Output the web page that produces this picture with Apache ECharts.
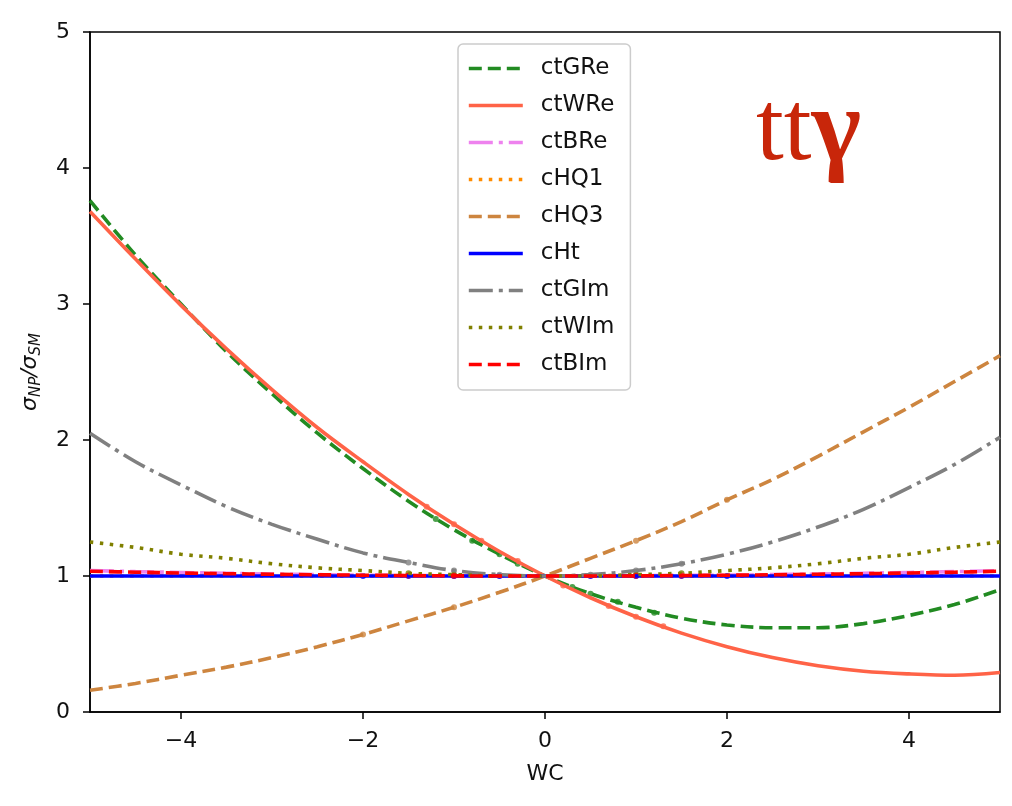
<!DOCTYPE html>
<html>
<head>
<meta charset="utf-8">
<script src="https://cdn.jsdelivr.net/npm/echarts@6/dist/echarts.min.js"></script>
<style>
  html, body { margin: 0; padding: 0; background: #ffffff; }
  #chart { width: 1012px; height: 806px; }
</style>
</head>
<body>
<div id="chart"></div>
<script>
// Wilson coefficient scan points
const wc = [-5, -4.5, -4, -3.5, -3, -2.5, -2, -1.5, -1, -0.5, 0, 0.5, 1, 1.5, 2, 2.5, 3, 3.5, 4, 4.5, 5];

// sigma_NP / sigma_SM for each operator along wc
const ctGRe = [3.76, 3.36, 3.00, 2.65, 2.34, 2.05, 1.79, 1.55, 1.34, 1.16, 1.00, 0.87, 0.77, 0.69, 0.64, 0.62, 0.62, 0.65, 0.71, 0.79, 0.90];
const ctWRe = [3.68, 3.33, 2.99, 2.67, 2.37, 2.09, 1.84, 1.60, 1.38, 1.18, 1.00, 0.84, 0.70, 0.58, 0.48, 0.40, 0.34, 0.30, 0.28, 0.27, 0.29];
const ctBRe = [1.040, 1.032, 1.026, 1.020, 1.014, 1.010, 1.006, 1.004, 1.002, 1.000, 1.000, 1.000, 1.002, 1.004, 1.006, 1.010, 1.014, 1.020, 1.026, 1.032, 1.040];
const cHQ1 = [1.00, 1.00, 1.00, 1.00, 1.00, 1.00, 1.00, 1.00, 1.00, 1.00, 1.00, 1.00, 1.00, 1.00, 1.00, 1.00, 1.00, 1.00, 1.00, 1.00, 1.00];
const cHQ3 = [0.16, 0.21, 0.27, 0.33, 0.40, 0.48, 0.57, 0.67, 0.77, 0.88, 1.00, 1.13, 1.26, 1.40, 1.56, 1.71, 1.88, 2.06, 2.24, 2.43, 2.62];
const cHt = [1.00, 1.00, 1.00, 1.00, 1.00, 1.00, 1.00, 1.00, 1.00, 1.00, 1.00, 1.00, 1.00, 1.00, 1.00, 1.00, 1.00, 1.00, 1.00, 1.00, 1.00];
const ctGIm = [2.05, 1.84, 1.67, 1.51, 1.38, 1.27, 1.17, 1.10, 1.04, 1.01, 1.00, 1.01, 1.04, 1.09, 1.16, 1.25, 1.36, 1.49, 1.65, 1.82, 2.02];
const ctWIm = [1.25, 1.21, 1.16, 1.13, 1.09, 1.06, 1.04, 1.02, 1.01, 1.00, 1.00, 1.00, 1.01, 1.02, 1.04, 1.06, 1.09, 1.13, 1.16, 1.21, 1.25];
const ctBIm = [1.035, 1.028, 1.022, 1.017, 1.013, 1.009, 1.006, 1.003, 1.001, 1.000, 1.000, 1.000, 1.001, 1.003, 1.006, 1.009, 1.013, 1.017, 1.022, 1.028, 1.035];

// simulated points used for the fits: [wc, ratio]
const ctGRePts = [[-1.2, 1.42], [-0.8, 1.26], [-0.5, 1.16], [-0.3, 1.09], [0.3, 0.92], [0.5, 0.87], [0.8, 0.81], [1.2, 0.73]];
const ctWRePts = [[-1.3, 1.51], [-1.0, 1.38], [-0.7, 1.26], [-0.3, 1.11], [0.2, 0.93], [0.7, 0.78], [1.0, 0.70], [1.3, 0.63]];
const ctBRePts = [[-1.0, 1.0], [-0.5, 1.0], [0.5, 1.0], [1.0, 1.0]];
const cHQ3Pts = [[-2, 0.57], [-1, 0.77], [1, 1.26], [2, 1.56]];
const cHtPts = [[-2, 1.0], [-1.5, 1.0], [-1, 1.0], [-0.5, 1.0], [0.5, 1.0], [1, 1.0], [1.5, 1.0], [2, 1.0]];
const ctGImPts = [[-1.5, 1.10], [-1, 1.04], [-0.5, 1.01], [0.5, 1.01], [1, 1.04], [1.5, 1.09]];
const ctWImPts = [[-1.5, 1.02], [-1, 1.01], [1, 1.01], [1.5, 1.02]];
const ctBImPts = [[-1.5, 1.003], [-1, 1.001], [1, 1.001], [1.5, 1.003]];

// axis ticks
const xTicks = [-4, -2, 0, 2, 4];

const DASHED = [13, 6];
const DOTTED = [3.5, 6.5];
const DASHDOT = [24, 6, 4, 6];

const curves = [
  { name: 'ctGRe', data: ctGRe, pts: ctGRePts, color: '#228B22', type: DASHED },
  { name: 'ctWRe', data: ctWRe, pts: ctWRePts, color: '#FF6347', type: 'solid' },
  { name: 'ctBRe', data: ctBRe, pts: ctBRePts, color: '#EE82EE', type: DASHDOT },
  { name: 'cHQ1', data: cHQ1, pts: [], color: '#FF8C00', type: DOTTED },
  { name: 'cHQ3', data: cHQ3, pts: cHQ3Pts, color: '#CD853F', type: DASHED },
  { name: 'cHt', data: cHt, pts: cHtPts, color: '#0000FF', type: 'solid' },
  { name: 'ctGIm', data: ctGIm, pts: ctGImPts, color: '#808080', type: DASHDOT },
  { name: 'ctWIm', data: ctWIm, pts: ctWImPts, color: '#808000', type: DOTTED },
  { name: 'ctBIm', data: ctBIm, pts: ctBImPts, color: '#FF0000', type: DASHED }
];

const series = [];
curves.forEach(function (c) {
  series.push({
    name: c.name,
    type: 'line',
    smooth: 0.35,
    symbol: 'none',
    data: wc.map(function (x, i) { return [x, c.data[i]]; }),
    lineStyle: { color: c.color, width: 3.6, type: c.type, cap: 'butt' },
    itemStyle: { color: c.color, opacity: 0 },
    emphasis: { disabled: true },
    animation: false
  });
  if (c.pts.length) {
    series.push({
      name: c.name + ' pts',
      type: 'scatter',
      symbol: 'circle',
      symbolSize: 6,
      data: c.pts,
      itemStyle: { color: c.color },
      emphasis: { disabled: true },
      animation: false
    });
  }
});

const minus = function (v) { return String(v).replace('-', '\u2212'); };

const chart = echarts.init(document.getElementById('chart'), null, { renderer: 'canvas' });
chart.setOption({
  backgroundColor: '#ffffff',
  animation: false,
  textStyle: { fontFamily: 'DejaVu Sans' },
  grid: {
    left: 90, right: 12, top: 32, bottom: 94,
    show: true, borderColor: '#000', borderWidth: 1.5, backgroundColor: 'transparent'
  },
  legend: {
    data: curves.map(function (c) { return c.name; }),
    orient: 'vertical',
    left: 458,
    top: 44,
    padding: [13, 16, 14, 9],
    itemWidth: 54,
    itemHeight: 20,
    itemGap: 14,
    backgroundColor: '#ffffff',
    borderColor: '#cccccc',
    borderWidth: 1.5,
    borderRadius: 5,
    selectedMode: false,
    itemStyle: { opacity: 0 },
    lineStyle: { width: 3.6 },
    textStyle: { fontSize: 23, color: '#111', fontFamily: 'DejaVu Sans', padding: [0, 0, 0, 13] }
  },
  xAxis: {
    type: 'value',
    min: -5, max: 5,
    name: 'WC',
    nameLocation: 'middle',
    nameGap: 51,
    nameTextStyle: { fontSize: 22, color: '#111', fontFamily: 'DejaVu Sans' },
    axisLine: { show: true, onZero: false, lineStyle: { color: '#000', width: 1.5 } },
    axisTick: { show: true, length: 7, lineStyle: { color: '#000', width: 1.5 }, customValues: xTicks },
    axisLabel: { fontSize: 22, color: '#111', margin: 18, formatter: minus, customValues: xTicks },
    splitLine: { show: false }
  },
  yAxis: {
    type: 'value',
    min: 0, max: 5, interval: 1,
    name: '{s|σ}{sub|NP}{s|/σ}{sub|SM}',
    nameLocation: 'middle',
    nameGap: 46,
    nameTextStyle: {
      rich: {
        s: { fontSize: 22, fontStyle: 'italic', color: '#111', fontFamily: 'DejaVu Sans', lineHeight: 28, verticalAlign: 'middle' },
        sub: { fontSize: 15, fontStyle: 'italic', color: '#111', fontFamily: 'DejaVu Sans', lineHeight: 28, verticalAlign: 'bottom' }
      }
    },
    axisLine: { show: true, onZero: false, lineStyle: { color: '#000', width: 1.5 } },
    axisTick: { show: true, length: 7, lineStyle: { color: '#000', width: 1.5 } },
    axisLabel: { fontSize: 22, color: '#111', margin: 20, formatter: minus },
    splitLine: { show: false }
  },
  graphic: [
    {
      type: 'text',
      left: 756,
      top: 80,
      z: 100,
      style: {
        text: '{t|tt}{g|γ}',
        rich: {
          t: { fontFamily: 'Liberation Serif', fontSize: 100, fill: '#C8260A' },
          g: { fontFamily: 'Liberation Serif', fontSize: 106, fontWeight: 'bold', fill: '#C8260A' }
        }
      }
    }
  ],
  series: series
});
</script>
</body>
</html>
